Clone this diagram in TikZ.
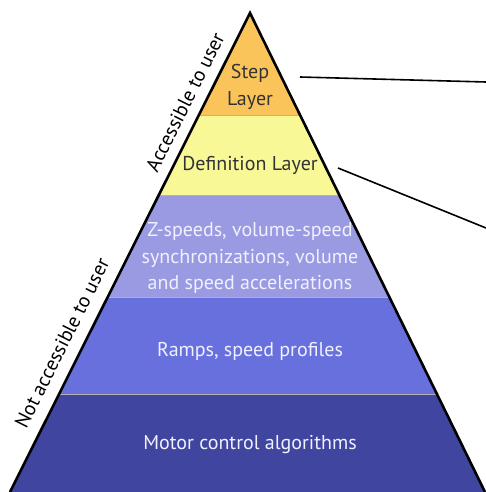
\documentclass[tikz,border=0pt]{standalone}
\usepackage{fontspec}
\setmainfont{PT Sans}
\usetikzlibrary{calc}
\definecolor{stepor}{RGB}{250,196,90}
\definecolor{defyel}{RGB}{248,248,150}
\definecolor{zlav}{RGB}{154,154,226}
\definecolor{rampblu}{RGB}{104,112,222}
\definecolor{motblu}{RGB}{64,70,160}

\begin{document}
\begin{tikzpicture}[x=1pt,y=-1pt,font=\fontsize{20}{26.5}\selectfont,
    sep/.style={draw=black!30,line width=0.8pt},
    dark/.style={text=black!80,align=center,inner sep=0pt},
    light/.style={text=white!94!blue,align=center,inner sep=0pt},
    callout/.style={black,line width=1.6pt},
    side/.style={black,rotate=63.4,inner sep=0pt}]
  \useasboundingbox (0,0) rectangle (486,492);
  \coordinate (top) at (250,13);
  \coordinate (bl) at (10,492);
  \coordinate (br) at (485,492);
  % bands of the pyramid, top to bottom
  \foreach \ta/\tb/\col in {0/0.213/stepor,0.213/0.380/defyel,0.380/0.593/zlav,
                            0.593/0.797/rampblu,0.797/1/motblu}{
    \fill[\col] ($(top)!\ta!(bl)$) -- ($(top)!\tb!(bl)$) -- ($(top)!\tb!(br)$)
      -- ($(top)!\ta!(br)$) -- cycle;
  }
  \foreach \tb in {0.213,0.380,0.593,0.797}
    \draw[sep] ($(top)!\tb!(bl)$) -- ($(top)!\tb!(br)$);
  \draw[line width=2.6pt,line join=miter] (bl) -- (top) -- (br);
  % layer texts
  \node[dark]  (steptxt) at (250,87)  {Step\\Layer};
  \node[dark]  (deftxt)  at (250,165) {Definition Layer};
  \node[light] (ztxt)    at (250,258) {Z-speeds, volume-speed\\synchronizations, volume\\and speed accelerations};
  \node[light] (ramptxt) at (250,351) {Ramps, speed profiles};
  \node[light] (mottxt)  at (250,445) {Motor control algorithms};
  % side labels
  \node[side] (acc)    at (185,102) {Accessible to user};
  \node[side] (notacc) at (62,343)  {Not accessible to user};
  % callout lines
  \coordinate (s1) at (300,77);
  \coordinate (e1) at (486,82);
  \coordinate (s2) at (338,168);
  \coordinate (e2) at (486,228);
  \draw[callout] (s1) -- (e1);
  \draw[callout] (s2) -- (e2);
\end{tikzpicture}
\end{document}
